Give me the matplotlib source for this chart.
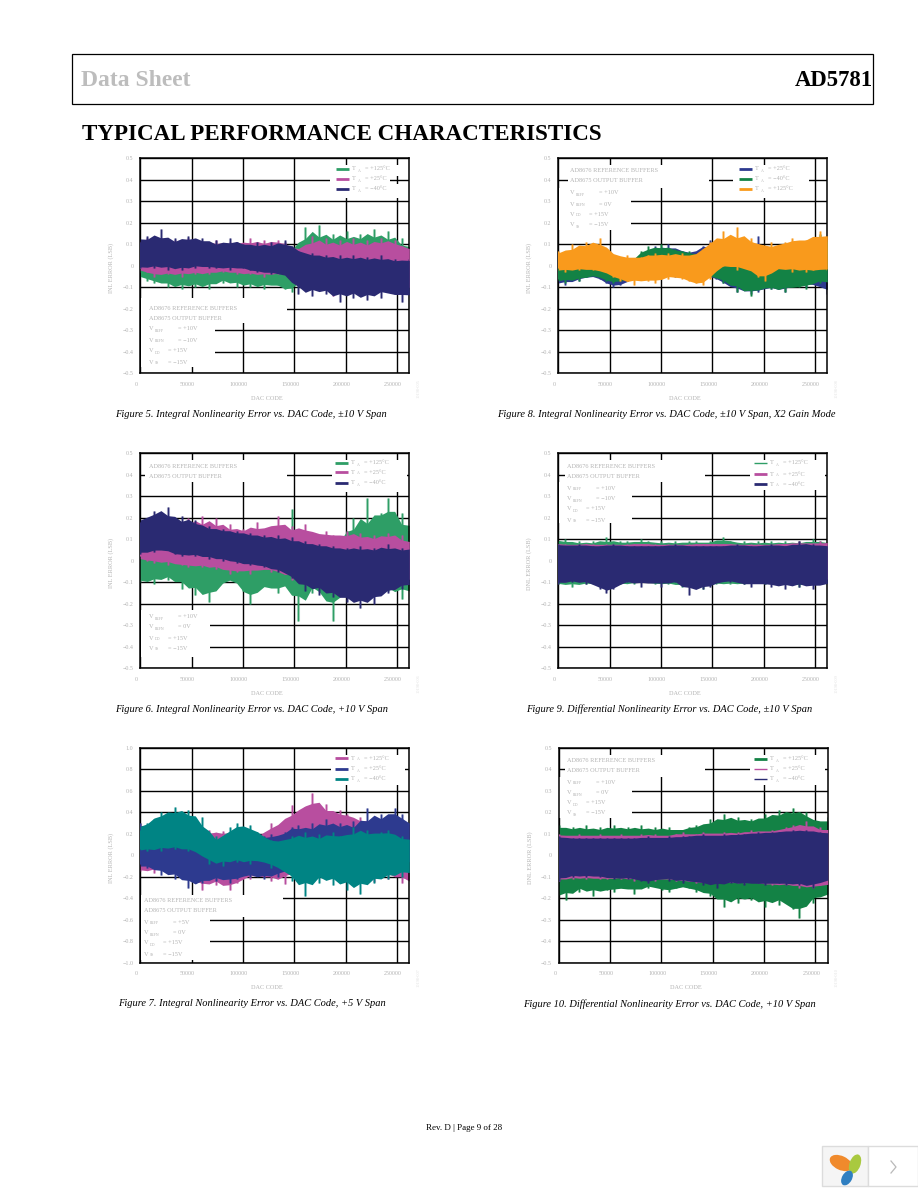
import matplotlib
matplotlib.use('Agg')
import matplotlib.pyplot as plt
from matplotlib.patches import Rectangle, Ellipse
from matplotlib.transforms import ScaledTranslation

plt.rcParams['font.family'] = ['Liberation Serif', 'DejaVu Serif']

W, H = 918, 1188

# DAC code of each envelope sample
codes = [0, 6700, 13400, 20100, 26800, 33500, 40200, 46900, 53600, 60300,
         67000, 73700, 80400, 87100, 93800, 100500, 107200, 113900, 120600, 127300,
         134000, 140700, 147400, 154100, 160800, 167500, 174200, 180900, 187600, 194300,
         201000, 207700, 214400, 221100, 227800, 234500, 241200, 247900, 254600, 262144]

x_ticks = [0, 50000, 100000, 150000, 200000, 250000]
y_ticks = [0.5, 0.4, 0.3, 0.2, 0.1, 0, -0.1, -0.2, -0.3, -0.4, -0.5]
y_labels = ['0.5', '0.4', '0.3', '0.2', '0.1', '0', '−0.1', '−0.2', '−0.3', '−0.4', '−0.5']
y_ticks_5v = [1.0, 0.8, 0.6, 0.4, 0.2, 0, -0.2, -0.4, -0.6, -0.8, -1.0]
y_labels_5v = ['1.0', '0.8', '0.6', '0.4', '0.2', '0', '−0.2', '−0.4', '−0.6', '−0.8', '−1.0']

# all error envelopes below are in 0.01 LSB
fig5_green_hi = [6, 8, 9, 7, 8, 7, 8, 7, 8, 6,
                 7, 6, 8, 6, 7, 6, 5, 7, 5, 6,
                 5, 7, 6, 9, 18, 11, 19, 10, 15, 12,
                 16, 10, 15, 13, 17, 10, 16, 11, 13, 5]
fig5_green_lo = [-3, -7, -8, -6, -10, -8, -11, -7, -10, -8,
                 -11, -6, -8, -6, -10, -7, -10, -8, -11, -7,
                 -9, -11, -12, -8, -4, -5, -3, -6, -4, -5,
                 -3, -6, -4, -5, -3, -5, -4, -6, -8, -5]
fig5_magenta_hi = [10, 13, 11, 13, 9, 12, 11, 13, 12, 11,
                   10, 12, 9, 11, 10, 10, 13, 9, 12, 10,
                   12, 11, 8, 7, 9, 14, 9, 13, 8, 12,
                   9, 13, 8, 12, 9, 13, 10, 12, 9, 7]
fig5_magenta_lo = [-1, -3, -5, -3, -4, -3, -5, -2, -4, -3,
                   -4, -2, -3, -2, -4, -3, -4, -3, -5, -3,
                   -4, -3, -4, -7, -8, -6, -10, -8, -14, -9,
                   -12, -8, -11, -8, -12, -8, -11, -9, -12, -8]
fig5_navy_hi = [11, 14, 12, 17, 10, 13, 11, 14, 12, 13,
                10, 12, 8, 13, 11, 10, 9, 11, 8, 11,
                9, 12, 9, 7, 5, 6, 4, 5, 3, 5,
                2, 5, 3, 4, 2, 5, 2, 3, 2, 3]
fig5_navy_lo = [-1, 0, -1, 1, -2, 0, -2, 0, -1, 1,
                -1, -1, 0, -2, 0, -1, -2, -3, -2, -4,
                -3, -4, -6, -13, -10, -14, -9, -13, -12, -17,
                -10, -15, -13, -16, -11, -15, -10, -13, -17, -10]

fig8_navy_hi = [4, 6, 3, 5, 6, 5, 4, 5, 3, 2,
                1, 3, 5, 7, 9, 7, 10, 8, 7, 6,
                6, 9, 12, 6, 5, 4, 6, 5, 7, 14,
                6, 5, 7, 6, 4, 6, 7, 5, 6, 5]
fig8_navy_lo = [-7, -9, -6, -7, -5, -4, -6, -8, -10, -9,
                -7, -6, -3, -5, -3, -4, -3, -5, -4, -6,
                -6, -5, -4, -6, -8, -9, -12, -10, -13, -12,
                -9, -11, -10, -12, -9, -8, -10, -7, -9, -13]
fig8_green_hi = [2, 5, 3, 6, 4, 5, 3, 4, 2, 1,
                 0, 3, 7, 9, 7, 10, 8, 8, 6, 7,
                 5, 5, 3, 3, 4, 3, 6, 5, 6, 4,
                 3, 6, 4, 7, 3, 5, 6, 4, 15, 8]
fig8_green_lo = [-6, -8, -5, -7, -5, -4, -5, -7, -8, -7,
                 -6, -5, -3, -4, -2, -3, -2, -3, -4, -5,
                 -6, -5, -4, -5, -8, -7, -12, -9, -14, -11,
                 -9, -11, -10, -12, -8, -10, -11, -6, -8, -7]
fig8_orange_hi = [7, 5, 10, 8, 11, 9, 13, 8, 5, 4,
                  5, 3, 4, 5, 6, 4, 6, 5, 6, 4,
                  5, 8, 11, 12, 16, 10, 18, 11, 13, 10,
                  8, 11, 8, 11, 13, 11, 12, 13, 16, 12]
fig8_orange_lo = [-1, -3, -1, -2, -1, -2, -2, -3, -5, -7,
                  -6, -9, -5, -7, -8, -5, -6, -4, -6, -7,
                  -8, -9, -6, -1, 0, 1, -2, 0, -2, -5,
                  -7, -2, -1, -1, -3, 0, -3, -2, -1, -2]

fig6_green_hi = [5, 6, 8, 5, 6, 4, 5, 7, 4, 5,
                 6, 5, 8, 6, 7, 4, 3, 5, 4, 5,
                 4, 6, 24, 9, 12, 8, 7, 9, 6, 7,
                 14, 20, 10, 29, 13, 22, 29, 18, 22, 11]
fig6_green_lo = [-10, -8, -11, -6, -9, -7, -13, -9, -16, -12,
                 -19, -13, -10, -8, -9, -14, -20, -13, -11, -12,
                 -15, -11, -9, -28, -12, -15, -10, -18, -28, -12,
                 -11, -14, -9, -13, -10, -12, -14, -11, -18, -10]
fig6_magenta_hi = [14, 16, 18, 15, 19, 14, 16, 20, 15, 21,
                   15, 20, 14, 17, 13, 15, 14, 18, 13, 15,
                   21, 14, 16, 13, 17, 13, 11, 14, 12, 10,
                   14, 11, 13, 9, 12, 10, 13, 11, 12, 6]
fig6_magenta_lo = [2, 0, -1, 1, -2, 0, -2, -3, -1, -3,
                   -2, -4, -2, -6, -5, -3, -6, -4, -3, -5,
                   -4, -6, -9, -4, -8, -6, -9, -7, -10, -9,
                   -8, -11, -9, -12, -8, -14, -10, -13, -9, -8]
fig6_navy_hi = [18, 20, 23, 22, 25, 16, 21, 18, 19, 15,
                16, 14, 15, 13, 14, 12, 13, 11, 12, 10,
                12, 9, 11, 8, 9, 7, 8, 6, 7, 5,
                6, 5, 7, 4, 6, 5, 8, 4, 6, 5]
fig6_navy_lo = [3, 5, 4, 6, 5, 3, 2, 4, 2, 3,
                1, 2, 0, 1, -1, -1, -2, -1, -3, -3,
                -5, -4, -8, -10, -14, -9, -16, -12, -17, -15,
                -19, -17, -22, -16, -20, -14, -15, -12, -13, -9]

fig9_green_hi = [9, 10, 8, 9, 8, 9, 8, 11, 8, 9,
                 9, 8, 10, 9, 8, 9, 8, 9, 8, 9,
                 9, 8, 9, 9, 11, 9, 8, 9, 8, 9,
                 8, 9, 8, 9, 8, 9, 8, 10, 9, 8]
fig9_green_lo = [-11, -10, -12, -10, -11, -10, -11, -9, -10, -11,
                 -10, -11, -9, -10, -11, -10, -11, -10, -12, -11,
                 -10, -13, -10, -11, -10, -11, -10, -11, -10, -9,
                 -11, -10, -11, -10, -11, -12, -10, -11, -10, -11]
fig9_magenta_hi = [8, 8, 7, 8, 8, 8, 7, 8, 8, 7,
                   8, 8, 8, 8, 8, 7, 8, 8, 7, 8,
                   8, 8, 8, 8, 8, 8, 8, 7, 8, 8,
                   7, 8, 8, 8, 8, 9, 8, 8, 9, 8]
fig9_magenta_lo = [-9, -10, -9, -8, -9, -10, -9, -9, -8, -10,
                   -9, -9, -10, -8, -9, -10, -9, -9, -8, -10,
                   -9, -8, -10, -9, -8, -9, -9, -10, -8, -9,
                   -10, -9, -10, -9, -8, -10, -9, -9, -8, -9]
fig9_navy_hi = [8, 7, 7, 8, 7, 7, 7, 7, 8, 7,
                7, 7, 7, 7, 7, 7, 7, 8, 7, 7,
                7, 7, 7, 7, 7, 7, 8, 7, 7, 7,
                7, 8, 7, 7, 7, 9, 7, 8, 7, 7]
fig9_navy_lo = [-11, -9, -10, -9, -11, -9, -13, -15, -13, -10,
                -10, -9, -12, -9, -10, -12, -9, -10, -10, -16,
                -11, -13, -12, -10, -9, -10, -9, -11, -12, -9,
                -11, -12, -10, -13, -10, -12, -10, -13, -11, -10]

fig7_magenta_hi = [30, 26, 24, 20, 22, 18, 20, 22, 21, 19,
                   24, 18, 23, 19, 22, 18, 17, 15, 20, 30,
                   26, 30, 47, 35, 45, 58, 42, 48, 35, 42,
                   38, 32, 36, 28, 33, 30, 36, 28, 33, 25]
fig7_magenta_lo = [-15, -12, -16, -10, -14, -8, -20, -15, -26, -32,
                   -20, -28, -24, -32, -26, -18, -22, -16, -20, -24,
                   -16, -27, -14, -10, -8, -12, -6, -10, -14, -18,
                   -16, -12, -24, -18, -25, -16, -22, -12, -26, -22]
fig7_navy_hi = [30, 24, 28, 20, 25, 18, 22, 16, 18, 14,
                10, 12, 8, 10, 14, 12, 16, 12, 18, 20,
                14, 22, 26, 28, 20, 30, 24, 34, 26, 30,
                24, 32, 22, 44, 30, 38, 34, 44, 38, 22]
fig7_navy_lo = [-8, -12, -10, -18, -14, -22, -16, -30, -24, -26,
                -20, -24, -18, -26, -22, -16, -20, -18, -22, -16,
                -20, -14, -10, -8, -10, -6, -8, -5, -6, -4,
                -6, -3, -8, -2, -6, -3, -2, -5, -4, -8]
fig7_teal_hi = [24, 30, 34, 40, 36, 45, 38, 42, 32, 36,
                14, 18, 12, 26, 30, 24, 28, 22, 16, 14,
                12, 14, 18, 16, 22, 12, 20, 15, 22, 18,
                14, 26, 20, 24, 16, 22, 24, 17, 18, 12]
fig7_teal_lo = [6, 4, 8, 4, 10, 6, 8, 4, 6, 0,
                -8, -4, -10, -2, -6, -4, -8, -2, -5, -12,
                -8, -14, -24, -20, -38, -18, -26, -16, -28, -20,
                -32, -22, -36, -20, -26, -18, -22, -14, -20, -12]

fig10_green_hi = [14, 12, 13, 12, 14, 11, 13, 12, 14, 12,
                  13, 12, 14, 11, 13, 12, 13, 11, 12, 13,
                  14, 13, 17, 15, 19, 16, 18, 15, 17, 16,
                  19, 17, 21, 18, 22, 19, 20, 16, 14, 18]
fig10_green_lo = [-16, -21, -15, -17, -14, -19, -15, -16, -17, -14,
                  -15, -18, -14, -15, -14, -16, -17, -15, -14, -15,
                  -17, -16, -19, -18, -24, -19, -22, -18, -21, -20,
                  -24, -19, -23, -20, -25, -29, -20, -22, -17, -19]
fig10_magenta_hi = [10, 9, 9, 10, 9, 9, 10, 9, 9, 10,
                    9, 9, 10, 9, 10, 9, 9, 10, 11, 9,
                    10, 11, 10, 10, 11, 10, 11, 10, 12, 11,
                    11, 12, 11, 13, 14, 13, 16, 12, 13, 11]
fig10_magenta_lo = [-12, -10, -11, -10, -11, -10, -11, -11, -10, -11,
                    -10, -12, -10, -11, -12, -10, -11, -12, -11, -12,
                    -13, -12, -13, -12, -13, -12, -13, -13, -12, -13,
                    -13, -14, -13, -14, -13, -15, -14, -15, -14, -13]
fig10_navy_hi = [9, 8, 8, 8, 8, 8, 8, 8, 8, 8,
                 8, 8, 8, 9, 8, 8, 9, 8, 9, 9,
                 9, 10, 9, 9, 10, 9, 10, 10, 10, 11,
                 10, 11, 11, 11, 12, 11, 12, 11, 11, 10]
fig10_navy_lo = [-12, -9, -10, -9, -10, -9, -10, -10, -11, -10,
                 -11, -10, -12, -13, -11, -10, -12, -10, -13, -11,
                 -12, -14, -12, -15, -12, -13, -12, -14, -12, -13,
                 -14, -12, -13, -14, -12, -14, -13, -15, -12, -11]

GREEN = '#2e9e66'
DGREEN = '#138245'
MAGENTA = '#b84e9f'
NAVY = '#2a2a72'
BLUE = '#2d3a8f'
TEAL = '#008484'
ORANGE = '#f99a1c'
GRAY = '#b4b4b4'

fig = plt.figure(figsize=(W / 100, H / 100), dpi=100, facecolor='white')

# overlay in pixel coordinates for all the page furniture
page = fig.add_axes([0, 0, 1, 1], zorder=10)
page.set_xlim(0, W)
page.set_ylim(H, 0)
page.axis('off')
page.patch.set_alpha(0)


def small(x, y, s, size=4.5, color=GRAY, **kw):
    page.text(x, y, s, fontsize=size, color=color, va='center', **kw)


def supply_line(x, y, sub, val, off):
    small(x, y, 'V', size=4.6)
    small(x + 5.5, y + 1.5, sub, size=2.8)
    small(x + off, y, val)


def core(vals):
    # solid part of the band: mean of each sample and its neighbours, samples stay as spikes
    out = []
    for i in range(len(vals)):
        near = vals[max(i - 1, 0):i + 2]
        out.append(sum(near) / len(near) * 0.01)
    return out


def panel(left, top, series, masks, legend, note, ylab, caption, cap_x, five_volt=False):
    right, bottom = left + 269, top + 215
    ax = fig.add_axes([left / W, 1 - bottom / H, 269 / W, 215 / H])
    ax.set_xlim(0, 262144)
    ax.set_ylim(-1 if five_volt else -0.5, 1 if five_volt else 0.5)
    ax.set_xticks(x_ticks)
    ax.set_xticklabels([str(t) for t in x_ticks])
    ax.set_yticks(y_ticks_5v if five_volt else y_ticks)
    ax.set_yticklabels(y_labels_5v if five_volt else y_labels)
    ax.tick_params(length=0, labelsize=4.3, labelcolor=GRAY, pad=5)
    ax.tick_params(axis='x', pad=6)
    shift = ScaledTranslation(-4 / 100, 0, fig.dpi_scale_trans)
    for lab in ax.get_xticklabels():
        lab.set_transform(lab.get_transform() + shift)
    ax.grid(True, color='black', linewidth=1.0)
    ax.set_axisbelow(True)
    for sp in ax.spines.values():
        sp.set_linewidth(1.1)

    # white boxes behind the notes cut the grid
    for x0, y0, x1, y1 in masks:
        ax.add_patch(Rectangle((x0, y0), x1 - x0, y1 - y0, transform=page.transData,
                               facecolor='white', edgecolor='none', zorder=1))

    z = 2
    for hi, lo, col in series:
        ax.fill_between(codes, core(lo), core(hi), color=col, linewidth=0, zorder=z)
        ax.vlines(codes, [v * 0.01 for v in lo], [v * 0.01 for v in hi], color=col,
                  linewidth=2.2, alpha=0.4, zorder=z)
        ax.vlines(codes, [v * 0.01 for v in lo], [v * 0.01 for v in hi], color=col,
                  linewidth=0.9, zorder=z)
        z += 1

    # legend
    for name, col, lw, y in legend['rows']:
        page.plot([legend['x0'], legend['x0'] + 13], [y, y], color=col, linewidth=lw,
                  solid_capstyle='butt')
        small(legend['x0'] + 16, y, 'T', size=4.6)
        small(legend['x0'] + 22, y + 1.5, 'A', size=2.8)
        small(legend['x0'] + 29, y, '= ' + name)

    # notes
    for s, y in note['ad']:
        small(note['x'], y, s)
    for (sub, val, off), y in zip(note['v'], note['vy']):
        supply_line(note['x'], y, sub, val, off)

    small(left - 29, top + 110, ylab, rotation=90, ha='center')
    small(left + 127, bottom + 25, 'DAC CODE', ha='center')
    small(right + 9, bottom + 15, note['code'], size=3.2, color='#e2e2e2', rotation=90, ha='center')
    page.text(cap_x, bottom + 41, caption, fontsize=7.45, style='italic', color='black',
              ha='center', va='center')
    return ax


def supplies(refp, refn):
    return [('REFP', '= ' + refp, 29), ('REFN', '= ' + refn, 29),
            ('DD', '= +15V', 19), ('SS', '= −15V', 19)]


AD1 = 'AD8676 REFERENCE BUFFERS'
AD2 = 'AD8675 OUTPUT BUFFER'

panel(140.3, 158.3,
      [(fig5_green_hi, fig5_green_lo, GREEN), (fig5_magenta_hi, fig5_magenta_lo, MAGENTA),
       (fig5_navy_hi, fig5_navy_lo, NAVY)],
      [(330, 165, 390, 198), (392, 165, 402, 176), (392, 184, 402, 198),
       (141, 298, 287, 323), (141, 323, 215, 367)],
      {'x0': 336, 'rows': [('+125°C', GREEN, 2, 169), ('+25°C', MAGENTA, 2, 179), ('−40°C', NAVY, 2, 189)]},
      {'x': 149, 'ad': [(AD1, 308), (AD2, 318)], 'v': supplies('+10V', '−10V'),
       'vy': [329, 340, 351, 362], 'code': '10198-005'},
      'INL ERROR (LSB)', 'Figure 5. Integral Nonlinearity Error vs. DAC Code, ±10 V Span', 250.5)

panel(558.3, 158.3,
      [(fig8_navy_hi, fig8_navy_lo, BLUE), (fig8_green_hi, fig8_green_lo, DGREEN),
       (fig8_orange_hi, fig8_orange_lo, ORANGE)],
      [(568, 165, 709, 188), (559, 188, 631, 230), (733, 165, 809, 198)],
      {'x0': 739, 'rows': [('+25°C', BLUE, 2, 169), ('−40°C', DGREEN, 2, 179), ('+125°C', ORANGE, 2, 189)]},
      {'x': 570, 'ad': [(AD1, 171), (AD2, 181)], 'v': supplies('+10V', '0V'),
       'vy': [193, 204, 214, 225], 'code': '10198-008'},
      'INL ERROR (LSB)', 'Figure 8. Integral Nonlinearity Error vs. DAC Code, ±10 V Span, X2 Gain Mode', 666)

panel(140.3, 453.3,
      [(fig6_green_hi, fig6_green_lo, GREEN), (fig6_magenta_hi, fig6_magenta_lo, MAGENTA),
       (fig6_navy_hi, fig6_navy_lo, NAVY)],
      [(145, 460, 287, 482), (332, 460, 407, 492), (141, 610, 210, 657)],
      {'x0': 335, 'rows': [('+125°C', GREEN, 2, 463), ('+25°C', MAGENTA, 2, 472), ('−40°C', NAVY, 2, 483)]},
      {'x': 149, 'ad': [(AD1, 466), (AD2, 476)], 'v': supplies('+10V', '0V'),
       'vy': [617, 627, 638, 648], 'code': '10198-006'},
      'INL ERROR (LSB)', 'Figure 6. Integral Nonlinearity Error vs. DAC Code, +10 V Span', 251.5)

panel(558.3, 453.3,
      [(fig9_green_hi, fig9_green_lo, GREEN), (fig9_magenta_hi, fig9_magenta_lo, MAGENTA),
       (fig9_navy_hi, fig9_navy_lo, NAVY)],
      [(565, 460, 705, 482), (559, 482, 632, 523), (750, 460, 825, 490)],
      {'x0': 754, 'rows': [('+125°C', GREEN, 1, 463), ('+25°C', MAGENTA, 2, 474), ('−40°C', NAVY, 2, 484)]},
      {'x': 567, 'ad': [(AD1, 466), (AD2, 476)], 'v': supplies('+10V', '−10V'),
       'vy': [488, 499, 509, 520], 'code': '10198-009'},
      'DNL ERROR (LSB)', 'Figure 9. Differential Nonlinearity Error vs. DAC Code, ±10 V Span', 669.5)

panel(140.3, 747.8,
      [(fig7_magenta_hi, fig7_magenta_lo, MAGENTA), (fig7_navy_hi, fig7_navy_lo, BLUE),
       (fig7_teal_hi, fig7_teal_lo, TEAL)],
      [(331, 755, 405, 785), (141, 895, 283, 917), (141, 917, 210, 960)],
      {'x0': 335, 'rows': [('+125°C', MAGENTA, 2, 758), ('+25°C', BLUE, 2, 769), ('−40°C', TEAL, 2, 779)]},
      {'x': 144, 'ad': [(AD1, 900), (AD2, 910)], 'v': supplies('+5V', '0V'),
       'vy': [922, 933, 943, 954], 'code': '10198-007'},
      'INL ERROR (LSB)', 'Figure 7. Integral Nonlinearity Error vs. DAC Code, +5 V Span', 252, five_volt=True)

panel(558.8, 747.8,
      [(fig10_green_hi, fig10_green_lo, DGREEN), (fig10_magenta_hi, fig10_magenta_lo, MAGENTA),
       (fig10_navy_hi, fig10_navy_lo, NAVY)],
      [(565, 755, 705, 777), (559, 777, 632, 818), (750, 755, 825, 785)],
      {'x0': 754, 'rows': [('+125°C', DGREEN, 2, 759), ('+25°C', MAGENTA, 1, 769), ('−40°C', NAVY, 1, 779)]},
      {'x': 567, 'ad': [(AD1, 760), (AD2, 770)], 'v': supplies('+10V', '0V'),
       'vy': [782, 793, 803, 813], 'code': '10198-010'},
      'DNL ERROR (LSB)', 'Figure 10. Differential Nonlinearity Error vs. DAC Code, +10 V Span', 669.5)

# header
page.add_patch(Rectangle((72, 54), 801, 50, fill=False, edgecolor='black', linewidth=0.9))
page.text(81, 81, 'Data Sheet', fontsize=17, fontweight='bold', color='#bdbdbd', va='center')
page.text(873, 81, 'AD5781', fontsize=16.4, fontweight='bold', color='black', va='center', ha='right')
page.text(82, 134, 'TYPICAL PERFORMANCE CHARACTERISTICS', fontsize=16.55, fontweight='bold',
          color='black', va='center')
page.text(464.5, 1128, 'Rev. D | Page 9 of 28', fontsize=6.5, color='black', ha='center', va='center')

# viewer widget, bottom right
page.add_patch(Rectangle((822, 1146), 46, 40, facecolor='#f5f5f5', edgecolor='#dcdcdc', linewidth=1))
page.add_patch(Rectangle((868, 1146), 50, 40, facecolor='white', edgecolor='#dcdcdc', linewidth=1))
page.add_patch(Ellipse((841, 1163), 24, 14, angle=25, facecolor='#f08a2c', edgecolor='none'))
page.add_patch(Ellipse((855, 1164), 11, 20, angle=20, facecolor='#a9c93f', edgecolor='none'))
page.add_patch(Ellipse((847, 1178), 10, 16, angle=30, facecolor='#2f7fc1', edgecolor='none'))
page.plot([891, 896, 891], [1161, 1167, 1173], color='#b9b9b9', linewidth=0.9)

fig.savefig('out.png', dpi=100)
